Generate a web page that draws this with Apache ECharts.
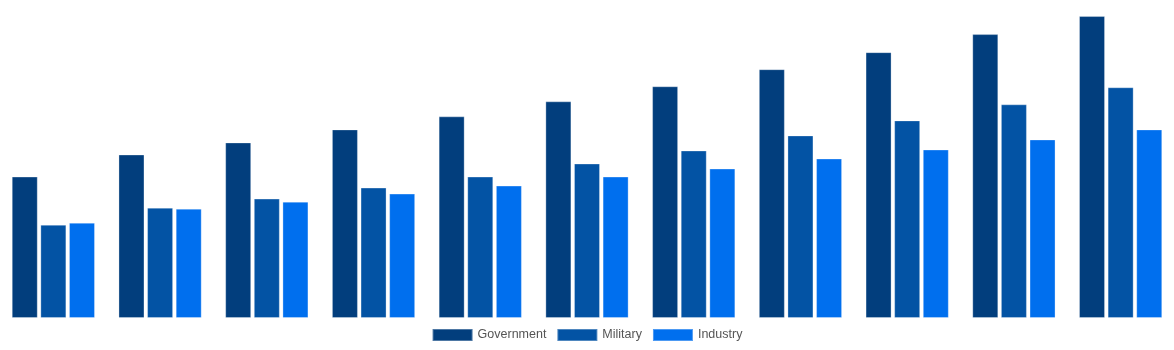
<!DOCTYPE html>
<html>
<head>
<meta charset="utf-8">
<script src="https://cdn.jsdelivr.net/npm/echarts@6/dist/echarts.min.js"></script>
<style>
  html, body { margin: 0; padding: 0; background: #ffffff; }
  #chart { width: 1174px; height: 350px; }
</style>
</head>
<body>
<div id="chart"></div>
<script>
// Eleven periods, three funding sources
const categories = ['P1', 'P2', 'P3', 'P4', 'P5', 'P6', 'P7', 'P8', 'P9', 'P10', 'P11'];
const seriesNames = ['Government', 'Military', 'Industry'];
const government = [141, 163, 175, 188, 201, 216, 231, 248, 265, 283, 301];
const military   = [93, 110, 119, 130, 141, 154, 167, 182, 197, 213, 230];
const industry   = [95, 109, 116, 124, 132, 141, 149, 159, 168, 178, 188];
const valueMax = 317;

const colors = ['#023e7d', '#0353a4', '#006fee'];
const values = [government, military, industry];

const chart = echarts.init(document.getElementById('chart'), null, { renderer: 'canvas' });
chart.setOption({
  animation: false,
  color: colors,
  grid: { left: 0, right: 0, top: 0, bottom: 32, containLabel: false },
  legend: {
    data: seriesNames,
    left: 'center',
    top: 328,
    padding: 0,
    itemWidth: 40,
    itemHeight: 12,
    itemGap: 10,
    icon: 'rect',
    textStyle: { color: '#555555', fontSize: 12.5, fontFamily: 'Liberation Sans, Arial, sans-serif' }
  },
  xAxis: {
    type: 'category',
    data: categories,
    show: false
  },
  yAxis: {
    type: 'value',
    min: 0,
    max: valueMax,
    show: false,
    splitLine: { show: false }
  },
  series: seriesNames.map((name, i) => ({
    name: name,
    type: 'bar',
    data: values[i],
    barGap: '10%',
    barCategoryGap: '22%',
    itemStyle: {
      color: colors[i],
      borderColor: 'rgba(255,255,255,0.3)',
      borderWidth: 1
    }
  }))
});
</script>
</body>
</html>
